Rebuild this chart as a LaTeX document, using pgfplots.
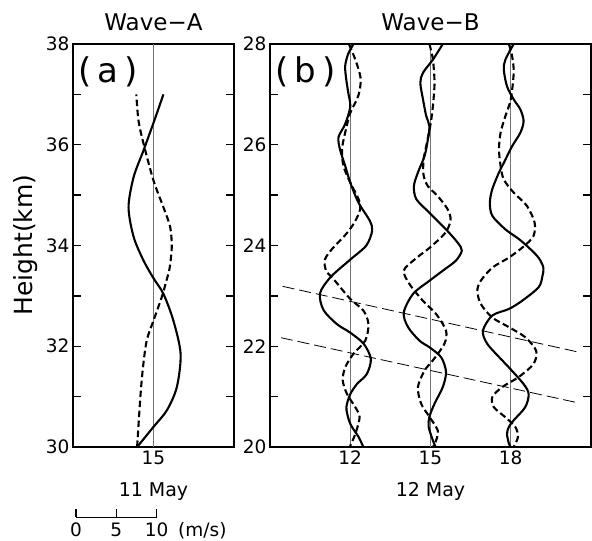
\documentclass[border=0pt]{standalone}
\usepackage{fontspec}
\setmainfont{DejaVu Sans}
\usepackage{pgfplots}
\pgfplotsset{compat=1.18}
\pgfplotsset{
  panel/.style={
    scale only axis, height=403pt,
    axis line style={line width=1.8pt},
    every tick/.style={black, line width=1.4pt},
    tick align=inside,
    major tick length=8pt, minor tick length=8pt,
    xtick pos=left,
    ytick pos=both, yticklabel pos=left,
    tick label style={font=\fontsize{18.5}{20}\selectfont},
    /pgf/number format/assume math mode=true,
    clip=false,
  },
  sol/.style={black, line width=2.1pt, smooth, no markers},
  das/.style={black, line width=2.1pt, smooth, dash pattern=on 6.5pt off 3.5pt, no markers},
  refl/.style={black!55, line width=0.9pt, no markers},
}
\begin{document}
\begin{tikzpicture}
\useasboundingbox (0,0) rectangle (592pt,541pt);
\node[rotate=90, anchor=base, font=\fontsize{25}{30}\selectfont] at (32pt,296pt) {Height(km)};

% ---------------- Panel (a) ----------------
\begin{axis}[panel, at={(73pt,94pt)}, anchor=south west, width=161pt,
  xmin=12, xmax=18, ymin=30, ymax=38, xtick={15},
  ytick={30,32,...,38}, minor ytick={31,33,...,37}]
\addplot[refl] coordinates {(15,30) (15,38)};
\addplot[sol] coordinates {
(14.39,30.00) (15.00,30.40) (15.50,30.73) (15.87,31.19) (16.01,31.85)
(15.74,32.51) (15.37,33.04) (15.00,33.35) (14.63,33.70) (14.26,34.17)
(14.07,34.76) (14.26,35.36) (14.63,35.89) (15.03,36.48) (15.37,37.00)};
\addplot[das] coordinates {
(14.39,30.00) (14.51,30.99) (14.61,31.59) (14.75,32.12) (15.00,32.51)
(15.31,32.98) (15.47,33.28) (15.60,33.55) (15.68,33.97) (15.62,34.37)
(15.37,34.76) (15.00,35.29) (14.63,36.02) (14.44,36.48) (14.36,37.00)};
\node[font=\fontsize{23}{28}\selectfont, anchor=base, yshift=14pt] at (rel axis cs:0.5,1) {Wave−A};
\node[font=\fontsize{34}{40}\selectfont, anchor=base west, inner sep=0pt, xshift=5pt, yshift=-38pt] at (rel axis cs:0,1) {(\hspace{6pt}a\hspace{6pt})};
\node[font=\fontsize{19}{22}\selectfont, anchor=base, yshift=-49pt] at (axis cs:15,30) {11 May};
% scale bar: 10 m/s = 3 h
\draw[line width=1.4pt] (axis cs:12.115,28.604) -- (axis cs:15.115,28.604);
\draw[line width=1.4pt] (axis cs:12.115,28.604) -- (axis cs:12.115,28.77);
\draw[line width=1.4pt] (axis cs:13.615,28.604) -- (axis cs:13.615,28.77);
\draw[line width=1.4pt] (axis cs:15.115,28.604) -- (axis cs:15.115,28.77);
\node[font=\fontsize{18.5}{20}\selectfont, anchor=base] at (axis cs:12.115,28.22) {0};
\node[font=\fontsize{18.5}{20}\selectfont, anchor=base] at (axis cs:13.615,28.22) {5};
\node[font=\fontsize{18.5}{20}\selectfont, anchor=base] at (axis cs:15.115,28.22) {10};
\node[font=\fontsize{18.5}{20}\selectfont, anchor=base] at (axis cs:16.82,28.22) {(m/s)};
\end{axis}

% ---------------- Panel (b) ----------------
\begin{axis}[panel, at={(270pt,94pt)}, anchor=south west, width=321pt,
  xmin=9, xmax=21, ymin=20, ymax=28, xtick={12,15,18},
  ytick={20,22,...,28}, minor ytick={21,23,...,27}]
\addplot[refl] coordinates {(12,20) (12,28)};
\addplot[refl] coordinates {(15,20) (15,28)};
\addplot[refl] coordinates {(18,20) (18,28)};
\addplot[black, line width=0.8pt, dash pattern=on 12pt off 5pt] coordinates {(9.47,23.19) (20.48,21.89)};
\addplot[black, line width=0.8pt, dash pattern=on 12pt off 5pt] coordinates {(9.41,22.17) (20.40,20.89)};
% column 12
\addplot[sol] coordinates {
(12.12,28.00) (11.92,27.80) (11.81,27.56) (11.85,27.30) (11.92,27.05)
(12.00,26.75) (11.80,26.40) (11.56,26.15) (11.62,25.90) (11.80,25.60)
(12.00,25.25) (12.31,24.85) (12.72,24.50) (12.82,24.30) (12.60,24.00)
(12.00,23.72) (11.26,23.37) (10.87,23.05) (11.00,22.72) (11.50,22.44)
(12.00,22.27) (12.50,22.05) (12.77,21.75) (12.62,21.45) (12.25,21.25)
(12.00,21.05) (11.88,20.86) (11.86,20.73) (12.00,20.46) (12.31,20.20)
(12.49,20.00)};
\addplot[das] coordinates {
(11.95,28.00) (12.19,27.69) (12.38,27.35) (12.36,27.10) (12.25,26.90)
(12.00,26.63) (11.81,26.24) (11.69,25.90) (11.75,25.57) (12.00,25.25)
(12.31,24.92) (12.37,24.72) (12.15,24.45) (11.80,24.20) (11.35,23.95)
(11.05,23.72) (11.10,23.50) (11.38,23.33) (12.00,22.94) (12.49,22.71)
(12.68,22.44) (12.56,22.11) (12.12,21.85) (11.81,21.58) (11.72,21.32)
(11.88,21.05) (12.19,20.79) (12.35,20.59) (12.19,20.26) (11.98,20.00)};
% column 15
\addplot[sol] coordinates {
(15.46,28.00) (15.09,27.69) (14.72,27.43) (14.62,27.23) (14.72,26.90)
(14.84,26.57) (14.96,26.37) (14.90,26.10) (14.78,25.78) (14.53,25.45)
(14.38,25.18) (14.47,24.92) (14.96,24.65) (15.58,24.32) (16.01,24.06)
(16.17,23.90) (15.95,23.70) (15.46,23.50) (14.96,23.30) (14.35,23.04)
(14.00,22.67) (14.16,22.38) (14.59,22.11) (14.96,21.98) (15.40,21.78)
(15.58,21.49) (15.46,21.19) (15.15,20.86) (14.96,20.60) (14.93,20.40)
(15.09,20.13) (15.19,20.00)};
\addplot[das] coordinates {
(14.96,28.00) (15.09,27.69) (15.15,27.23) (15.09,26.77) (15.00,26.40)
(14.85,26.00) (14.74,25.70) (14.74,25.40) (14.90,25.18) (15.27,24.98)
(15.64,24.72) (15.75,24.50) (15.55,24.25) (15.00,23.97) (14.40,23.72)
(14.00,23.50) (14.22,23.23) (14.72,22.90) (15.21,22.64) (15.58,22.31)
(15.52,22.05) (15.09,21.72) (14.78,21.52) (14.53,21.19) (14.65,20.86)
(14.96,20.60) (15.27,20.33) (15.21,20.13) (15.09,20.00)};
% column 18
\addplot[sol] coordinates {
(18.11,28.00) (17.80,27.69) (17.74,27.49) (17.86,27.16) (18.11,26.90)
(18.36,26.70) (18.48,26.47) (18.36,26.24) (18.05,25.97) (17.74,25.64)
(17.56,25.45) (17.31,25.12) (17.22,24.85) (17.31,24.59) (17.80,24.32)
(18.30,24.13) (18.73,23.93) (19.05,23.75) (19.22,23.56) (19.18,23.38)
(19.04,23.17) (18.42,22.90) (17.93,22.74) (17.31,22.61) (16.96,22.31)
(17.12,22.05) (17.68,21.72) (17.93,21.58) (18.48,21.25) (18.67,21.05)
(18.54,20.79) (18.11,20.53) (17.93,20.40) (17.86,20.26) (17.93,20.07)
(18.00,20.00)};
\addplot[das] coordinates {
(17.93,28.00) (18.05,27.76) (18.11,27.43) (18.00,26.90) (17.80,26.57)
(17.62,26.24) (17.56,25.91) (17.62,25.58) (17.74,25.31) (18.11,25.05)
(18.60,24.79) (18.89,24.46) (18.85,24.19) (18.48,23.98) (17.93,23.76)
(17.31,23.56) (16.88,23.30) (16.75,23.10) (16.88,22.84) (17.31,22.57)
(17.93,22.38) (18.54,22.18) (18.95,21.91) (18.85,21.65) (18.30,21.39)
(17.68,21.19) (17.31,20.99) (17.37,20.79) (17.80,20.59) (18.17,20.40)
(18.27,20.20) (18.11,20.00)};
\node[font=\fontsize{23}{28}\selectfont, anchor=base, yshift=14pt] at (rel axis cs:0.5,1) {Wave−B};
\node[font=\fontsize{34}{40}\selectfont, anchor=base west, inner sep=0pt, xshift=5pt, yshift=-38pt] at (rel axis cs:0,1) {(\hspace{6pt}b\hspace{6pt})};
\node[font=\fontsize{19}{22}\selectfont, anchor=base, yshift=-49pt] at (axis cs:15,20) {12 May};
\end{axis}
\end{tikzpicture}
\end{document}
